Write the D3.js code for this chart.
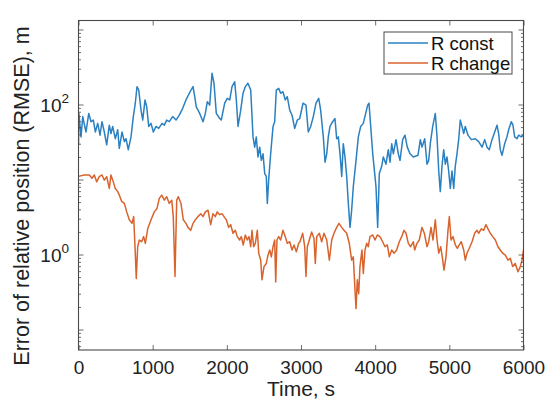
<!DOCTYPE html>
<html><head><meta charset="utf-8">
<script src="https://cdn.jsdelivr.net/npm/d3@7"></script>
<style>html,body{margin:0;padding:0;background:#fff;}svg{display:block;font-family:"Liberation Sans",Arial,sans-serif;}</style>
</head><body><svg id="c" width="546" height="402"></svg>
<script>
// ---- data (time in s, RMSE in m) ----
const seriesNames = ["R const", "R change"];
const constTime = [0,5,34,57,101,138,169,200,227,259,290,317,348,380,415,438,461,496,529,550,587,618,640,671,708,739,766,789,812,843,866,897,920,947,978,1009,1045,1081,1126,1157,1189,1224,1270,1315,1359,1405,1449,1517,1544,1567,1588,1634,1679,1710,1737,1769,1800,1827,1858,1904,1925,1971,2006,2039,2070,2106,2128,2151,2187,2218,2249,2285,2322,2353,2376,2397,2420,2443,2465,2488,2511,2532,2546,2564,2591,2623,2645,2667,2699,2726,2757,2788,2815,2848,2879,2915,2950,2983,3027,3067,3098,3131,3166,3202,3239,3265,3301,3324,3347,3368,3391,3427,3458,3481,3503,3526,3549,3570,3593,3616,3638,3661,3683,3705,3742,3773,3805,3840,3872,3899,3917,3940,3967,3994,4011,4034,4056,4088,4110,4146,4177,4200,4223,4245,4281,4312,4335,4371,4402,4433,4470,4514,4577,4609,4632,4668,4699,4722,4743,4776,4811,4834,4857,4878,4901,4924,4946,4968,4991,5013,5036,5059,5080,5103,5126,5148,5171,5194,5215,5252,5296,5350,5396,5441,5477,5508,5539,5575,5612,5643,5665,5687,5710,5746,5777,5800,5835,5858,5881,5912,5935,5970,6000];
const constValue = [29,76,37,69,43,76,59,62,43,56,39,59,43,29,53,41,51,35,46,26,43,32,35,25,37,69,104,173,156,84,62,115,93,51,56,43,51,48,56,53,62,59,69,62,72,89,115,156,173,127,93,76,59,76,109,98,261,192,76,65,62,104,121,115,173,201,115,51,84,141,173,192,156,37,27,37,20,27,18,22,12,11,4.8,9.8,22,51,59,156,164,141,148,115,127,84,72,48,62,65,104,98,43,51,69,104,121,84,37,17,22,37,51,59,65,35,37,22,11,30,20,11,4.8,2.3,3.9,8.0,18,37,51,56,76,98,104,51,22,12,8.0,2.3,12,15,20,16,25,17,30,22,34,22,18,34,39,27,22,20,21,34,27,35,16,18,30,51,76,37,13,6.9,15,25,16,20,13,7.6,13,7.6,15,22,34,62,51,41,51,39,34,35,32,27,34,27,25,34,43,53,41,25,21,30,37,46,59,53,37,35,39,37,39];
const changeTime = [0,78,146,182,213,245,280,317,348,380,415,438,469,496,529,550,582,618,650,685,721,744,762,779,798,820,852,879,901,933,978,1022,1058,1089,1122,1157,1189,1224,1257,1278,1301,1324,1346,1382,1413,1449,1476,1513,1544,1575,1611,1648,1679,1710,1746,1782,1813,1844,1871,1904,1935,1962,1993,2025,2052,2083,2114,2141,2173,2195,2222,2249,2276,2299,2322,2339,2362,2384,2411,2430,2457,2474,2501,2532,2555,2578,2600,2623,2645,2659,2676,2699,2726,2757,2788,2815,2848,2879,2906,2937,2969,2986,3023,3050,3067,3085,3112,3144,3175,3193,3212,3247,3279,3310,3347,3382,3414,3445,3481,3512,3549,3580,3616,3651,3683,3705,3728,3742,3759,3778,3795,3822,3840,3863,3886,3907,3930,3967,3998,4029,4065,4101,4132,4164,4191,4223,4254,4290,4325,4358,4389,4416,4447,4479,4514,4533,4564,4595,4631,4663,4699,4722,4753,4780,4811,4834,4857,4884,4911,4928,4955,4982,5000,5023,5050,5081,5108,5134,5161,5194,5215,5238,5269,5306,5342,5373,5396,5431,5463,5494,5521,5552,5585,5620,5656,5687,5719,5755,5791,5822,5854,5889,5926,5957,5980,6000];
const changeValue = [11,11.5,11.5,10.4,11.5,9.3,10.9,11.5,9.8,10.9,7.6,11.5,9.3,7.6,6.9,6.2,5.1,4.8,3.7,2.9,2.6,3.2,1.27,0.48,1.27,1.56,1.48,1.73,1.41,2.2,2.9,3.7,4.1,5.6,6.2,5.3,5.9,4.8,5.3,3.2,0.51,5.3,5.9,4.8,2.9,2.6,2.3,2.1,2.6,2.9,3.2,3.5,3.2,3.7,3.9,2.5,3.5,3.2,3.7,3.4,3.5,3.2,2.9,2.3,2.5,1.92,2.1,1.73,1.56,1.73,1.34,1.82,1.56,1.73,1.27,2.1,1.27,1.41,2.1,1.04,0.84,0.46,0.69,0.76,0.98,1.15,0.93,1.27,1.56,0.43,1.56,1.73,1.56,2.1,1.73,1.41,1.48,1.15,1.34,1.09,1.41,1.48,1.92,1.27,0.51,1.27,1.56,2.0,1.64,0.76,1.73,1.92,1.48,1.92,1.56,0.84,1.56,1.92,2.3,2.6,2.3,2.1,1.92,1.41,0.84,0.93,0.34,0.19,0.46,0.30,0.69,1.15,0.56,1.15,1.41,1.27,1.73,1.82,1.56,1.82,1.73,1.48,1.27,1.34,0.93,1.15,1.04,1.15,1.48,1.73,2.1,1.92,1.41,1.27,1.48,1.15,1.41,1.56,2.3,1.92,1.27,1.48,2.3,1.56,2.9,1.56,1.04,1.27,0.84,0.62,0.93,2.1,3.2,1.56,1.73,1.34,1.21,1.34,1.48,1.15,0.84,1.04,1.21,1.48,1.92,2.1,1.92,2.2,2.1,2.5,2.2,1.92,1.73,1.56,1.27,1.15,1.04,0.98,0.84,0.89,0.69,0.76,0.59,0.69,0.84,1.15];
const xTicks = [0,1000,2000,3000,4000,5000,6000];
const yLabelledExponents = [0, 2];
const yMajorExponents = [-1, 0, 1, 2, 3];
const xLabel = "Time, s";
const yLabel = "Error of relative position (RMSE), m";

// ---- layout ----
const L = 78.5, R = 523.5, T = 20.5, B = 350;
const colors = ["#2a80c0", "#d9632c"];
const axisColor = "#4a4a4a";
const svg = d3.select("#c");

const x = d3.scaleLinear().domain([0, 6000]).range([L, R]);
const y = d3.scaleLog().domain([Math.pow(10, -(B - 254.5) / 75), Math.pow(10, (254.5 - T) / 75)]).range([B, T]);

// data lines
const line = d3.line().x(d => x(d[0])).y(d => y(d[1]));
const sets = [d3.zip(constTime, constValue), d3.zip(changeTime, changeValue)];
svg.append("clipPath").attr("id", "cp").append("rect").attr("x", L).attr("y", T).attr("width", R - L).attr("height", B - T);
sets.forEach((s, i) => {
  svg.append("path").datum(s).attr("d", line).attr("fill", "none")
    .attr("stroke", colors[i]).attr("stroke-width", 1.5).attr("stroke-linejoin", "round")
    .attr("clip-path", "url(#cp)");
});

// axes with inward ticks on all four sides
const g = svg.append("g");
g.append("g").attr("transform", `translate(0,${B})`).call(d3.axisBottom(x).tickValues(xTicks).tickSize(-5).tickFormat(d3.format("d")));
g.append("g").attr("transform", `translate(0,${T})`).call(d3.axisTop(x).tickValues(xTicks).tickSize(-5).tickFormat(""));

// y minor ticks
const [y0, y1] = y.domain();
const minorVals = [];
for (let e = -2; e <= 3; e++) for (let k = 2; k <= 9; k++) { const v = k * Math.pow(10, e); if (v >= y0 && v <= y1) minorVals.push(v); }
const majorVals = yMajorExponents.map(e => Math.pow(10, e));
g.append("g").attr("transform", `translate(${L},0)`).call(d3.axisLeft(y).tickValues(majorVals).tickSize(-5).tickFormat(""));
g.append("g").attr("transform", `translate(${L},0)`).call(d3.axisLeft(y).tickValues(minorVals).tickSize(-2.5).tickFormat(""));
g.append("g").attr("transform", `translate(${R},0)`).call(d3.axisRight(y).tickValues(majorVals).tickSize(-5).tickFormat(""));
g.append("g").attr("transform", `translate(${R},0)`).call(d3.axisRight(y).tickValues(minorVals).tickSize(-2.5).tickFormat(""));
g.selectAll(".domain").remove();
g.selectAll(".tick line").attr("stroke", axisColor).attr("stroke-width", 0.8);
g.selectAll(".tick text").attr("fill", "#222").attr("font-size", 19).attr("font-family", "Liberation Sans, Arial, sans-serif").attr("dy", "1.1em");
svg.append("rect").attr("x", L).attr("y", T).attr("width", R - L).attr("height", B - T)
  .attr("fill", "none").attr("stroke", axisColor).attr("stroke-width", 1.1);

// y tick labels 10^n
yLabelledExponents.forEach(e => {
  const t = svg.append("text").attr("x", 69).attr("y", y(Math.pow(10, e)) + 7).attr("text-anchor", "end")
    .attr("font-size", 19).attr("fill", "#222");
  t.append("tspan").text("10");
  t.append("tspan").attr("dy", -9).attr("font-size", 13.5).text(String(e));
});

// axis labels
svg.append("text").attr("x", 301).attr("y", 396).attr("text-anchor", "middle")
  .attr("font-size", 21).attr("fill", "#222").text(xLabel);
svg.append("text").attr("transform", `translate(29,196) rotate(-90)`).attr("text-anchor", "middle")
  .attr("font-size", 21.5).attr("fill", "#222").text(yLabel);

// legend
const lg = svg.append("g");
lg.append("rect").attr("x", 384).attr("y", 32).attr("width", 128).attr("height", 42)
  .attr("fill", "#fff").attr("stroke", axisColor).attr("stroke-width", 1);
seriesNames.forEach((n, i) => {
  const yy = 43 + i * 20;
  lg.append("line").attr("x1", 388).attr("x2", 428).attr("y1", yy).attr("y2", yy).attr("stroke", colors[i]).attr("stroke-width", 1.3);
  lg.append("text").attr("x", 431).attr("y", yy + 6.5).attr("font-size", 18.5).attr("fill", "#111").text(n);
});
</script></body></html>
